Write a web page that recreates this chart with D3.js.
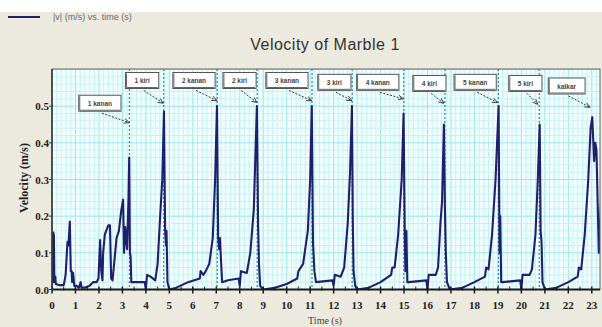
<!DOCTYPE html>
<html>
<head>
<meta charset="utf-8">
<script src="https://cdn.jsdelivr.net/npm/d3@7"></script>
<style>
  html, body { margin: 0; padding: 0; background: #ece9de; }
  svg { display: block; }
</style>
</head>
<body>
<svg id="chart" width="602" height="327"></svg>
<script>
// Data: time (s) and |v| (m/s)
const times = [
  0.00, 0.01, 0.06, 0.07, 0.08, 0.10, 0.14, 0.16, 0.30, 0.50, 0.58, 0.66, 0.70, 0.76, 0.80, 0.84, 0.86, 0.90, 0.95,
  1.05, 1.15, 1.22, 1.26, 1.40, 1.60, 1.75, 1.90, 1.98, 2.05, 2.10, 2.15, 2.18, 2.25, 2.40, 2.47, 2.52, 2.58, 2.75,
  2.85, 2.95, 3.03, 3.07, 3.12, 3.17, 3.20, 3.26, 3.29, 3.32, 3.35, 3.38, 3.60, 3.95, 4.00, 4.05, 4.20, 4.40, 4.50,
  4.60, 4.70, 4.77, 4.82, 4.86, 4.88, 4.92, 5.00, 5.30, 5.80, 6.30, 6.33, 6.45, 6.55, 6.70, 6.85, 6.95, 7.03, 7.08,
  7.12, 7.16, 7.20, 7.25, 7.50, 7.95, 8.00, 8.05, 8.30, 8.45, 8.60, 8.73, 8.78, 8.82, 8.87, 9.00, 9.50, 10.00, 10.45,
  10.50, 10.70, 10.90, 11.00, 11.07, 11.12, 11.18, 11.25, 11.95, 12.00, 12.05, 12.30, 12.45, 12.60, 12.70, 12.78,
  12.82, 12.85, 12.92, 13.00, 13.50, 14.00, 14.45, 14.50, 14.60, 14.75, 14.90, 14.98, 15.03, 15.06, 15.10, 15.14,
  15.20, 15.95, 16.00, 16.05, 16.35, 16.45, 16.55, 16.62, 16.70, 16.74, 16.78, 16.83, 16.95, 17.50, 18.00, 18.45,
  18.50, 18.60, 18.75, 18.90, 19.03, 19.07, 19.10, 19.14, 19.20, 19.95, 20.00, 20.05, 20.35, 20.45, 20.60, 20.70,
  20.78, 20.82, 20.86, 20.90, 21.00, 21.50, 22.00, 22.40, 22.45, 22.55, 22.70, 22.85, 22.95, 23.02, 23.10, 23.15,
  23.20, 23.30, 23.40
];
const speeds = [
  0.000, 0.155, 0.155, 0.020, 0.150, 0.030, 0.035, 0.015, 0.012, 0.012, 0.040, 0.130, 0.120, 0.185, 0.050, 0.050, 0.020, 0.045, 0.010,
  0.010, 0.005, 0.020, 0.005, 0.005, 0.010, 0.020, 0.020, 0.030, 0.135, 0.050, 0.025, 0.100, 0.150, 0.175, 0.175, 0.030, 0.025, 0.140,
  0.160, 0.215, 0.245, 0.100, 0.170, 0.130, 0.110, 0.250, 0.360, 0.100, 0.090, 0.020, 0.020, 0.020, 0.000, 0.040, 0.035, 0.025, 0.070,
  0.190, 0.300, 0.485, 0.160, 0.120, 0.160, 0.020, 0.000, 0.005, 0.020, 0.030, 0.050, 0.040, 0.050, 0.070, 0.140, 0.300, 0.500, 0.140,
  0.110, 0.140, 0.080, 0.020, 0.025, 0.030, 0.010, 0.050, 0.045, 0.100, 0.220, 0.500, 0.180, 0.070, 0.010, 0.000, 0.005, 0.015, 0.030,
  0.050, 0.070, 0.160, 0.300, 0.500, 0.130, 0.050, 0.020, 0.025, 0.010, 0.040, 0.035, 0.060, 0.180, 0.320, 0.500,
  0.170, 0.050, 0.010, 0.000, 0.005, 0.020, 0.040, 0.060, 0.060, 0.150, 0.300, 0.480, 0.160, 0.050, 0.160, 0.020,
  0.020, 0.025, 0.000, 0.040, 0.040, 0.060, 0.180, 0.240, 0.450, 0.230, 0.100, 0.020, 0.000, 0.005, 0.020, 0.035,
  0.060, 0.055, 0.150, 0.300, 0.500, 0.100, 0.200, 0.020, 0.020, 0.025, 0.000, 0.040, 0.040, 0.055, 0.150, 0.300,
  0.450, 0.160, 0.130, 0.020, 0.000, 0.005, 0.020, 0.035, 0.060, 0.055, 0.150, 0.300, 0.440, 0.470, 0.350, 0.400,
  0.380, 0.100, 0.250
];

const xTicks = d3.range(0, 24);
const yTicks = [0, 0.1, 0.2, 0.3, 0.4, 0.5];

// Annotations: label, tip of the arrow (t, v), centre of the label box (t, v)
const noteLabels = ['1 kanan', '1 kiri', '2 kanan', '2 kiri', '3 kanan', '3 kiri', '4 kanan', '4 kiri', '5 kanan', '5 kiri', 'kalkar'];
const noteTipT = [3.29, 4.74, 7.03, 8.73, 11.07, 12.78, 14.97, 16.70, 18.98, 20.70, 22.93];
const noteTipV = [0.455, 0.508, 0.515, 0.510, 0.515, 0.515, 0.520, 0.508, 0.510, 0.505, 0.497];
const noteBoxT = [2.04, 3.84, 6.05, 7.99, 10.01, 12.03, 13.88, 16.08, 18.03, 20.17, 21.93];
const noteBoxV = [0.508, 0.570, 0.570, 0.570, 0.570, 0.565, 0.565, 0.562, 0.565, 0.562, 0.555];
const markerTimes = [3.30, 4.76, 7.04, 8.74, 11.08, 12.79, 14.99, 16.74, 19.02, 20.76];

const svg = d3.select('#chart');
const W = 602, H = 327;
const plot = { left: 52, right: 600, top: 69, bottom: 289.5 };

const x = d3.scaleLinear().domain([0, 23.35]).range([plot.left, plot.right]);
const y = d3.scaleLinear().domain([0, 0.6]).range([plot.bottom, plot.top + 0.5]);

// background
svg.append('rect').attr('width', W).attr('height', H).attr('fill', '#ece9de');
svg.append('rect').attr('width', W).attr('height', 12).attr('fill', '#ffffff');

// legend
svg.append('line').attr('x1', 8).attr('x2', 40).attr('y1', 17).attr('y2', 17)
  .attr('stroke', '#1f1f6e').attr('stroke-width', 2);
svg.append('text').attr('x', 53).attr('y', 20)
  .attr('font-family', 'Liberation Sans, Arial, sans-serif').attr('font-size', 9)
  .attr('fill', '#6a6a6a').text('|v| (m/s)  vs. time (s)');

// title
svg.append('text').attr('x', 325).attr('y', 50).attr('text-anchor', 'middle')
  .attr('font-family', 'Liberation Sans, Arial, sans-serif').attr('font-size', 16)
  .attr('fill', '#333').attr('letter-spacing', 0.5).text('Velocity of Marble 1');

// plot area + grid
const defs = svg.append('defs');
defs.append('clipPath').attr('id', 'clip').append('rect')
  .attr('x', plot.left).attr('y', plot.top)
  .attr('width', plot.right - plot.left).attr('height', plot.bottom - plot.top);

svg.append('rect').attr('x', plot.left).attr('y', plot.top)
  .attr('width', plot.right - plot.left).attr('height', plot.bottom - plot.top)
  .attr('fill', '#f2fdfd');

const grid = svg.append('g').attr('clip-path', 'url(#clip)');
const minorX = d3.range(0, 23.4, 0.2);
const minorY = d3.range(0, 0.61, 0.02);
grid.selectAll('.gx').data(minorX).enter().append('line')
  .attr('x1', d => x(d)).attr('x2', d => x(d))
  .attr('y1', plot.top).attr('y2', plot.bottom)
  .attr('stroke', (d, i) => i % 5 === 0 ? '#9ae6ea' : '#c4f2f4').attr('stroke-width', 1);
grid.selectAll('.gy').data(minorY).enter().append('line')
  .attr('x1', plot.left).attr('x2', plot.right)
  .attr('y1', d => y(d)).attr('y2', d => y(d))
  .attr('stroke', (d, i) => i % 5 === 0 ? '#9ae6ea' : '#c4f2f4').attr('stroke-width', 1);

// event markers
grid.selectAll('.marker').data(markerTimes).enter().append('line')
  .attr('x1', d => x(d)).attr('x2', d => x(d))
  .attr('y1', plot.top).attr('y2', plot.bottom)
  .attr('stroke', '#3c8893').attr('stroke-width', 1.2).attr('stroke-dasharray', '2,2');

// velocity line
const line = d3.line().x((d, i) => x(times[i])).y(d => y(d));
grid.append('path').datum(speeds)
  .attr('d', line).attr('fill', 'none')
  .attr('stroke', '#1f1f6e').attr('stroke-width', 2.1).attr('stroke-linejoin', 'round');

// frame
svg.append('rect').attr('x', plot.left).attr('y', plot.top)
  .attr('width', plot.right - plot.left).attr('height', plot.bottom - plot.top)
  .attr('fill', 'none').attr('stroke', '#666').attr('stroke-width', 1);

// annotations
defs.append('marker').attr('id', 'arrow').attr('viewBox', '0 0 10 10')
  .attr('refX', 9).attr('refY', 5).attr('markerWidth', 6).attr('markerHeight', 6)
  .attr('orient', 'auto')
  .append('path').attr('d', 'M0,1 L9,5 L0,9').attr('fill', 'none').attr('stroke', '#333').attr('stroke-width', 1.4);

const notes = svg.append('g');
noteLabels.forEach((label, i) => {
  const g = notes.append('g');
  const cx = x(noteBoxT[i]), cy = y(noteBoxV[i]);
  const t = g.append('text').attr('x', cx).attr('y', cy + 2.5).attr('text-anchor', 'middle')
    .attr('font-family', 'Liberation Sans, Arial, sans-serif').attr('font-size', 6.5)
    .attr('font-weight', 'bold').attr('fill', '#444').text(label);
  const w = t.node().getComputedTextLength() + 18;
  const h = 16;
  g.insert('rect', 'text').attr('x', cx - w / 2).attr('y', cy - h / 2)
    .attr('width', w).attr('height', h)
    .attr('fill', '#ffffff').attr('stroke', '#555').attr('stroke-width', 1);
  g.insert('path', 'text')
    .attr('d', 'M' + (cx - w / 2 + 1) + ',' + (cy - h / 2 + 1) + 'V' + (cy + h / 2 - 1) + 'H' + (cx + w / 2 - 1))
    .attr('fill', 'none').attr('stroke', '#666').attr('stroke-width', 1);
  g.append('line')
    .attr('x1', cx + w * 0.05).attr('y1', cy + h / 2 + 2)
    .attr('x2', x(noteTipT[i])).attr('y2', y(noteTipV[i]))
    .attr('stroke', '#333').attr('stroke-width', 1).attr('stroke-dasharray', '2,1.5')
    .attr('marker-end', 'url(#arrow)');
});

// axes
const xAxis = svg.append('g');
xAxis.append('line').attr('x1', plot.left).attr('x2', plot.right)
  .attr('y1', plot.bottom).attr('y2', plot.bottom)
  .attr('stroke', '#1a1a1a').attr('stroke-width', 2);
xAxis.selectAll('.xt').data(xTicks).enter().append('line')
  .attr('x1', d => x(d)).attr('x2', d => x(d))
  .attr('y1', plot.bottom - 3).attr('y2', plot.bottom + 4)
  .attr('stroke', '#1a1a1a').attr('stroke-width', 1.5);
xAxis.selectAll('.xm').data(xTicks.map(d => d + 0.5).filter(d => d < 23.35)).enter().append('line')
  .attr('x1', d => x(d)).attr('x2', d => x(d))
  .attr('y1', plot.bottom - 3).attr('y2', plot.bottom + 1)
  .attr('stroke', '#1a1a1a').attr('stroke-width', 1);
xAxis.selectAll('.xl').data(xTicks).enter().append('text')
  .attr('x', d => x(d)).attr('y', 309).attr('text-anchor', 'middle')
  .attr('font-family', 'Liberation Serif, Times New Roman, serif').attr('font-weight', 'bold')
  .attr('font-size', 11).attr('fill', '#222').text(d => d);

const yAxis = svg.append('g');
yAxis.append('line').attr('x1', plot.left).attr('x2', plot.left)
  .attr('y1', plot.top).attr('y2', plot.bottom)
  .attr('stroke', '#333').attr('stroke-width', 1.5);
yAxis.selectAll('.yt').data(yTicks).enter().append('line')
  .attr('x1', plot.left - 3).attr('x2', plot.left)
  .attr('y1', d => y(d)).attr('y2', d => y(d))
  .attr('stroke', '#333').attr('stroke-width', 1);
yAxis.selectAll('.yl').data(yTicks).enter().append('text')
  .attr('x', plot.left - 3).attr('y', d => y(d) + 4).attr('text-anchor', 'end')
  .attr('font-family', 'Liberation Serif, Times New Roman, serif').attr('font-weight', 'bold')
  .attr('font-size', 11).attr('fill', '#222').text(d => d.toFixed(1));

// axis titles
svg.append('text').attr('transform', 'translate(28,178) rotate(-90)').attr('text-anchor', 'middle')
  .attr('font-family', 'Liberation Serif, Times New Roman, serif').attr('font-weight', 'bold')
  .attr('font-size', 12).attr('fill', '#222').text('Velocity (m/s)');
svg.append('text').attr('x', 325).attr('y', 324).attr('text-anchor', 'middle')
  .attr('font-family', 'Liberation Serif, Times New Roman, serif')
  .attr('font-size', 10).attr('fill', '#444').text('Time (s)');
</script>
</body>
</html>
